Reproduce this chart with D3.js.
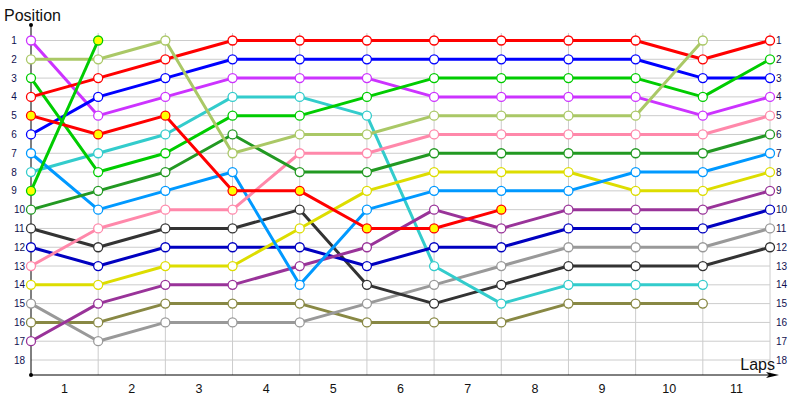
<!DOCTYPE html>
<html>
<head>
<meta charset="utf-8">
<script src="https://cdn.jsdelivr.net/npm/d3@7"></script>
<style>
  body { margin: 0; background: #fff; }
  svg { display: block; font-family: "Liberation Sans", Arial, sans-serif; }
</style>
</head>
<body>
<svg id="chart" width="800" height="400"></svg>
<script>
// laps and grid positions
const laps = [1, 2, 3, 4, 5, 6, 7, 8, 9, 10, 11];
const positions = d3.range(1, 19);

// position of each driver at each lap boundary (null = not running)
const red       = [4, 3, 2, 1, 1, 1, 1, 1, 1, 1, 2, 1];
const blue      = [6, 4, 3, 2, 2, 2, 2, 2, 2, 2, 3, 3];
const violet    = [1, 5, 4, 3, 3, 3, 4, 4, 4, 4, 5, 4];
const green     = [3, 8, 7, 5, 5, 4, 3, 3, 3, 3, 4, 2];
const lightOlive = [2, 2, 1, 7, 6, 6, 5, 5, 5, 5, 1, null];
const teal      = [8, 7, 6, 4, 4, 5, 13, 15, 14, 14, 14, null];
const darkGreen = [10, 9, 8, 6, 8, 8, 7, 7, 7, 7, 7, 6];
const skyBlue   = [7, 10, 9, 8, 14, 10, 9, 9, 9, 8, 8, 7];
const pink      = [13, 11, 10, 10, 7, 7, 6, 6, 6, 6, 6, 5];
const yellow    = [14, 14, 13, 13, 11, 9, 8, 8, 8, 9, 9, 8];
const charcoal  = [11, 12, 11, 11, 10, 14, 15, 14, 13, 13, 13, 12];
const navy      = [12, 13, 12, 12, 12, 13, 12, 12, 11, 11, 11, 10];
const plum      = [17, 15, 14, 14, 13, 12, 10, 11, 10, 10, 10, 9];
const gray      = [15, 17, 16, 16, 16, 15, 14, 13, 12, 12, 12, 11];
const olive     = [16, 16, 15, 15, 15, 16, 16, 16, 15, 15, 15, null];
const redPit    = [5, 6, 5, 9, 9, 11, 11, 10, null, null, null, null];
const greenPit  = [9, 1, null, null, null, null, null, null, null, null, null, null];

// drawing order: first is at the bottom
const series = [
  { values: olive, color: "#888844" },
  { values: gray, color: "#999999" },
  { values: charcoal, color: "#333333" },
  { values: teal, color: "#33cccc" },
  { values: navy, color: "#0000c0" },
  { values: plum, color: "#993399" },
  { values: yellow, color: "#dddd00" },
  { values: skyBlue, color: "#0099ff" },
  { values: pink, color: "#ff88aa" },
  { values: darkGreen, color: "#229922" },
  { values: violet, color: "#cc33ff" },
  { values: blue, color: "#0000ff" },
  { values: green, color: "#00cc00" },
  { values: red, color: "#ff0000" },
  { values: redPit, color: "#ff0000", fill: "#ffff00" },
  { values: lightOlive, color: "#aac866" },
  { values: greenPit, color: "#00cc00", fill: "#ffff00" }
];

const svg = d3.select("#chart");

const x = d3.scaleLinear().domain([0, laps.length]).range([31, 770]);
const y = d3.scaleLinear().domain([1, 18]).range([40.5, 360]);
const axisBottom = 375;

// grid
svg.append("g")
  .selectAll("line")
  .data(positions)
  .join("line")
  .attr("x1", x(0)).attr("x2", x(laps.length))
  .attr("y1", d => y(d)).attr("y2", d => y(d))
  .attr("stroke", "#cccccc");

svg.append("g")
  .selectAll("line")
  .data(d3.range(1, laps.length + 1))
  .join("line")
  .attr("x1", d => x(d)).attr("x2", d => x(d))
  .attr("y1", 33).attr("y2", axisBottom)
  .attr("stroke", "#cccccc");

// axes
svg.append("line")
  .attr("x1", x(0)).attr("x2", x(0))
  .attr("y1", 25).attr("y2", axisBottom)
  .attr("stroke", "#000");
svg.append("circle").attr("cx", x(0)).attr("cy", 25).attr("r", 2).attr("fill", "#000");
svg.append("circle").attr("cx", x(0)).attr("cy", axisBottom).attr("r", 2).attr("fill", "#000");

svg.append("line")
  .attr("x1", x(0)).attr("x2", 772)
  .attr("y1", axisBottom).attr("y2", axisBottom)
  .attr("stroke", "#000");
svg.append("path")
  .attr("d", `M779,${axisBottom} L766,${axisBottom - 3} L769,${axisBottom} L766,${axisBottom + 3} Z`)
  .attr("fill", "#000");

// tick labels
svg.append("g")
  .selectAll("text")
  .data(positions)
  .join("text")
  .attr("x", d => d < 10 ? 14 : 19.5)
  .attr("y", d => y(d))
  .attr("dy", "0.35em")
  .attr("text-anchor", "middle")
  .attr("font-size", 10)
  .attr("fill", "#101050")
  .text(d => d);

svg.append("g")
  .selectAll("text")
  .data(positions)
  .join("text")
  .attr("x", 776)
  .attr("y", d => y(d))
  .attr("dy", "0.35em")
  .attr("font-size", 10)
  .attr("fill", "#101050")
  .text(d => d);

svg.append("g")
  .selectAll("text")
  .data(laps)
  .join("text")
  .attr("x", d => x(d - 0.5))
  .attr("y", 393)
  .attr("text-anchor", "middle")
  .attr("font-size", 12.5)
  .attr("fill", "#111")
  .text(d => d);

svg.append("text")
  .attr("x", 4).attr("y", 21)
  .attr("font-size", 16)
  .attr("fill", "#111")
  .text("Position");

svg.append("text")
  .attr("x", 775).attr("y", 370)
  .attr("text-anchor", "end")
  .attr("font-size", 16)
  .attr("fill", "#111")
  .text("Laps");

// lines and markers
const line = d3.line()
  .defined(d => d != null)
  .x((d, i) => x(i))
  .y(d => y(d));

series.forEach(s => {
  const g = svg.append("g");
  g.append("path")
    .attr("d", line(s.values))
    .attr("fill", "none")
    .attr("stroke", s.color)
    .attr("stroke-width", 3)
    .attr("stroke-linejoin", "round");
  g.selectAll("circle")
    .data(s.values.map((v, i) => ({ v, i })).filter(d => d.v != null))
    .join("circle")
    .attr("cx", d => x(d.i))
    .attr("cy", d => y(d.v))
    .attr("r", 4.5)
    .attr("fill", s.fill || "#fff")
    .attr("stroke", s.color)
    .attr("stroke-width", 1.3);
});
</script>
</body>
</html>
